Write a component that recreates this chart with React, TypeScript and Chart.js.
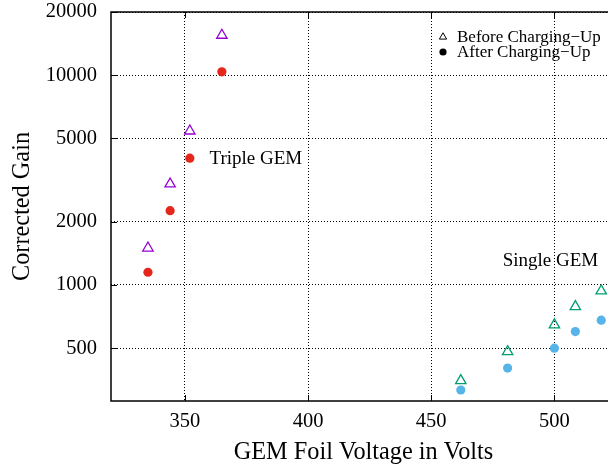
import React, { useEffect, useRef } from 'react';
import { Chart, registerables } from 'chart.js';

Chart.register(...registerables);

// ---- data ----
const tripleVoltage = [335, 344, 352, 365];
const tripleBefore = [1500, 3030, 5420, 15500];
const tripleAfter = [1150, 2260, 4020, 10370];

const singleVoltage = [462, 481, 500, 508.5, 519];
const singleBefore = [350, 481, 646, 789, 937];
const singleAfter = [316, 402, 500, 600, 680];

const xTicks = [350, 400, 450, 500];
const yTicks = [500, 1000, 2000, 5000, 10000, 20000];

const legendLabels = ['Before Charging\u2212Up', 'After Charging\u2212Up'];
const labelTexts = ['Triple GEM', 'Single GEM'];
const labelX = [360, 479];
const labelY = [4000, 1300];

const xTitle = 'GEM Foil Voltage in Volts';
const yTitle = 'Corrected Gain';

const SERIF = '"Liberation Serif", "Times New Roman", serif';

const purple = '#9400d3';
const red = '#e5261a';
const green = '#009e73';
const blue = '#56b4e9';

const toPoints = (xs: number[], ys: number[]) => xs.map((x, i) => ({ x, y: ys[i] }));

const decorPlugin = {
  id: 'decor',
  afterDraw(chart: any) {
    const { ctx, chartArea: a, scales } = chart;
    const xs = scales.x;
    const ys = scales.y;
    ctx.save();
    // frame
    ctx.strokeStyle = '#000';
    ctx.lineWidth = 1.5;
    ctx.setLineDash([]);
    ctx.strokeRect(a.left, a.top, a.right - a.left, a.bottom - a.top);
    // inward tick marks
    ctx.lineWidth = 1;
    ctx.beginPath();
    xTicks.forEach((v) => {
      const px = Math.round(xs.getPixelForValue(v)) + 0.5;
      ctx.moveTo(px, a.bottom);
      ctx.lineTo(px, a.bottom - 6);
      ctx.moveTo(px, a.top);
      ctx.lineTo(px, a.top + 6);
    });
    yTicks.forEach((v) => {
      const py = Math.round(ys.getPixelForValue(v)) + 0.5;
      ctx.moveTo(a.left, py);
      ctx.lineTo(a.left + 6, py);
      ctx.moveTo(a.right, py);
      ctx.lineTo(a.right - 6, py);
    });
    ctx.stroke();

    // annotation labels
    ctx.fillStyle = '#000';
    ctx.font = `19px ${SERIF}`;
    ctx.textAlign = 'left';
    ctx.textBaseline = 'middle';
    labelTexts.forEach((t, i) => {
      ctx.fillText(t, xs.getPixelForValue(labelX[i]), ys.getPixelForValue(labelY[i]));
    });

    // legend
    const symX = a.left + 332;
    const textX = a.left + 346;
    const rowY = [a.top + 25, a.top + 40];
    ctx.font = `17px ${SERIF}`;
    ctx.textBaseline = 'alphabetic';
    legendLabels.forEach((t, i) => {
      ctx.fillText(t, textX, rowY[i] + 5);
    });
    // triangle symbol
    const r = 4.2;
    const cy = rowY[0];
    ctx.strokeStyle = '#000';
    ctx.lineWidth = 1;
    ctx.beginPath();
    ctx.moveTo(symX, cy - r);
    ctx.lineTo(symX + r * 0.866, cy + r * 0.5);
    ctx.lineTo(symX - r * 0.866, cy + r * 0.5);
    ctx.closePath();
    ctx.stroke();
    // circle symbol
    ctx.beginPath();
    ctx.arc(symX, rowY[1], 3.6, 0, Math.PI * 2);
    ctx.fillStyle = '#000';
    ctx.fill();
    ctx.restore();
  },
};

export default function App() {
  const ref = useRef<HTMLCanvasElement | null>(null);

  useEffect(() => {
    if (!ref.current) return;
    const chart = new Chart(ref.current, {
      type: 'scatter',
      data: {
        datasets: [
          {
            label: 'Triple before',
            data: toPoints(tripleVoltage, tripleBefore),
            pointStyle: 'triangle',
            pointRadius: 6,
            borderColor: purple,
            backgroundColor: 'rgba(0,0,0,0)',
            borderWidth: 1.3,
          },
          {
            label: 'Triple after',
            data: toPoints(tripleVoltage, tripleAfter),
            pointStyle: 'circle',
            pointRadius: 4.6,
            borderColor: red,
            backgroundColor: red,
            borderWidth: 0,
          },
          {
            label: 'Single before',
            data: toPoints(singleVoltage, singleBefore),
            pointStyle: 'triangle',
            pointRadius: 6,
            borderColor: green,
            backgroundColor: 'rgba(0,0,0,0)',
            borderWidth: 1.3,
          },
          {
            label: 'Single after',
            data: toPoints(singleVoltage, singleAfter),
            pointStyle: 'circle',
            pointRadius: 4.6,
            borderColor: blue,
            backgroundColor: blue,
            borderWidth: 0,
          },
        ],
      },
      options: {
        responsive: false,
        animation: false,
        devicePixelRatio: 1,
        layout: { padding: { left: 0, top: 12, right: 24, bottom: 0 } },
        plugins: { legend: { display: false }, tooltip: { enabled: false } },
        scales: {
          x: {
            type: 'linear',
            position: 'bottom',
            min: 320,
            max: 525,
            afterBuildTicks: (s: any) => {
              s.ticks = xTicks.map((v) => ({ value: v }));
            },
            afterFit: (s: any) => {
              s.height = 67;
              s.paddingLeft = 0;
              s.paddingRight = 0;
            },
            grid: { color: '#000', lineWidth: 1, drawTicks: false },
            border: { display: false, dash: [1, 2] },
            ticks: {
              color: '#000',
              font: { family: SERIF, size: 20.5 },
              padding: 8,
              maxRotation: 0,
              autoSkip: false,
              callback: (v: any) => String(v),
            },
            title: {
              display: true,
              text: xTitle,
              color: '#000',
              font: { family: SERIF, size: 24.3 },
              padding: { top: 0, bottom: 1 },
            },
          },
          y: {
            type: 'logarithmic',
            min: 280,
            max: 20000,
            afterBuildTicks: (s: any) => {
              s.ticks = yTicks.map((v) => ({ value: v }));
            },
            afterFit: (s: any) => {
              s.width = 111;
              s.paddingTop = 0;
              s.paddingBottom = 0;
            },
            grid: { color: '#000', lineWidth: 1, drawTicks: false },
            border: { display: false, dash: [1, 2] },
            ticks: {
              color: '#000',
              font: { family: SERIF, size: 20.5 },
              padding: 14,
              autoSkip: false,
              callback: (v: any) => String(v),
            },
            title: {
              display: true,
              text: yTitle,
              color: '#000',
              font: { family: SERIF, size: 24.3 },
              padding: { top: 8, bottom: 0 },
            },
          },
        },
      },
      plugins: [decorPlugin],
    } as any);
    return () => chart.destroy();
  }, []);

  return (
    <div style={{ position: 'absolute', left: 0, top: 0, width: 608, height: 468, overflow: 'hidden', background: '#fff' }}>
      <canvas ref={ref} width={640} height={468} style={{ display: 'block', width: 640, height: 468 }} />
    </div>
  );
}
